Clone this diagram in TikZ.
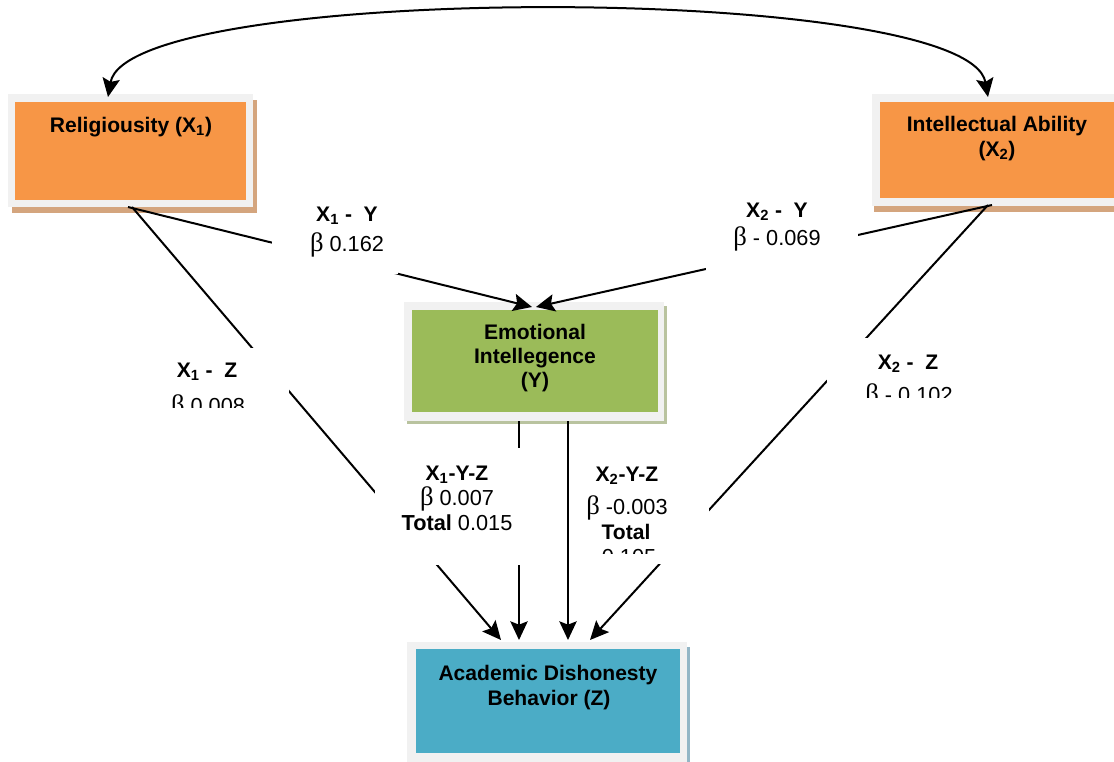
\documentclass[tikz,border=0pt]{standalone}
\usepackage{fontspec}
\setmainfont{Liberation Sans}
\newfontfamily\betafont{Liberation Serif}
\usetikzlibrary{arrows.meta}
\definecolor{orangebox}{HTML}{F79646}
\definecolor{greenbox}{HTML}{9BBB59}
\definecolor{bluebox}{HTML}{4BACC6}
\definecolor{framegray}{HTML}{F1F1F1}
\definecolor{tanshadow}{HTML}{D4A57E}
\definecolor{greenshadow}{HTML}{B9C39F}
\definecolor{blueshadow}{HTML}{93B6C6}
\newcommand{\bt}{{\betafont\fontsize{20}{20}\selectfont β}}
\newcommand{\sbs}[1]{\textsubscript{#1}}
\tikzset{
  title/.style={font=\fontsize{15.8}{19}\selectfont\bfseries, anchor=base, inner sep=0pt},
  labt/.style={font=\fontsize{15.8}{19}\selectfont\bfseries, anchor=base, inner sep=0pt},
  labr/.style={font=\fontsize{16.3}{19}\selectfont, anchor=base, inner sep=0pt},
  boxin/.style={inner sep=0pt, anchor=north west, draw=none},
  conn/.style={line width=1.5pt, black},
  tip/.style={-{Stealth[length=14pt,width=13pt,inset=2.5pt]}},
}
\begin{document}
\begin{tikzpicture}[x=0.75pt,y=-0.75pt]
\useasboundingbox (0,0) rectangle (1114,761);
\clip (0,0) rectangle (1114,761);
\fill[white] (0,0) rectangle (1114,761);

% Religiousity box
\fill[tanshadow] (12,100) rectangle (257,213);
\fill[framegray] (8,94) rectangle (253,207);
\node[boxin, fill=orangebox, minimum width=231*0.75pt, minimum height=98*0.75pt] (X1) at (15,102) {};
\node[title] (X1t) at (131,132) {Religiousity (X\sbs{1})};

% Intellectual Ability box
\fill[tanshadow] (874,100) rectangle (1130,212);
\fill[framegray] (872,94) rectangle (1130,206);
\node[boxin, fill=orangebox, minimum width=250*0.75pt, minimum height=96*0.75pt] (X2) at (880,102) {};
\node[title] (X2t) at (997,131) {Intellectual Ability};
\node[title] (X2u) at (997,156) {(X\sbs{2})};

% Emotional Intellegence box
\fill[greenshadow] (407,306) rectangle (667,424);
\fill[framegray] (404,302) rectangle (664,421);
\node[boxin, fill=greenbox, minimum width=246*0.75pt, minimum height=102*0.75pt] (Y) at (412,310) {};
\node[title] (Yt) at (535,339) {Emotional};
\node[title] (Yu) at (535,363) {Intellegence};
\node[title] (Yv) at (535,387) {(Y)};

% Academic Dishonesty box
\fill[blueshadow] (410,647) rectangle (690,770);
\fill[framegray] (407,642) rectangle (687,770);
\node[boxin, fill=bluebox, minimum width=264*0.75pt, minimum height=104*0.75pt] (Z) at (416,649) {};
\node[title] (Zt) at (548,680) {Academic Dishonesty};
\node[title] (Zu) at (549,705) {Behavior (Z)};

% connector end points
\coordinate (x1top) at (108,97);
\coordinate (x2top) at (988,97);
\coordinate (x1bot) at (128,207);
\coordinate (x1botz) at (132,207);
\coordinate (x2bot) at (992,205);
\coordinate (x2botz) at (988,205);
\coordinate (ytopl) at (532,307);
\coordinate (ytopr) at (536,307);
\coordinate (ybotl) at (519,421);
\coordinate (ybotr) at (568,421);
\coordinate (ztopa) at (501,640);
\coordinate (ztopb) at (519,640);
\coordinate (ztopc) at (568,640);
\coordinate (ztopd) at (590,640);

% connectors
\draw[conn, {Stealth[length=14pt,width=13pt,inset=2.5pt]}-{Stealth[length=14pt,width=13pt,inset=2.5pt]}]
  (x1top) .. controls (128,-18) and (968,-18) .. (x2top);
\draw[conn, tip] (x1bot) -- (ytopl);
\draw[conn, tip] (x2bot) -- (ytopr);
\draw[conn, tip] (x1botz) -- (ztopa);
\draw[conn, tip] (x2botz) -- (ztopd);
\draw[conn, tip] (ybotl) -- (ztopb);
\draw[conn, tip] (ybotr) -- (ztopc);

% label X1 - Y
\begin{scope}
\fill[white] (272,195) rectangle (398,274);
\clip (272,195) rectangle (398,274);
\node[labt] (l1a) at (347,221) {X\sbs{1} -\ \ Y};
\node[labr] (l1b) at (347,251) {\bt\ 0.162};
\end{scope}

% label X2 - Y
\begin{scope}
\fill[white] (706,190) rectangle (858,270);
\clip (706,190) rectangle (858,270);
\node[labt] (l2a) at (777,217) {X\sbs{2} -\ \ Y};
\node[labr] (l2b) at (777,245) {\bt\ - 0.069};
\end{scope}

% label X1 - Z
\begin{scope}
\fill[white] (150,348) rectangle (289,412);
\clip (150,348) rectangle (289,407);
\node[labt] (l3a) at (207,377) {X\sbs{1} -\ \ Z};
\node[labr] (l3b) at (208,413) {\bt\ 0.008};
\end{scope}

% label X2 - Z
\begin{scope}
\fill[white] (827,338) rectangle (960,397);
\clip (827,338) rectangle (960,397);
\node[labt] (l4a) at (908,369) {X\sbs{2} -\ \ Z};
\node[labr] (l4b) at (909,402) {\bt\ - 0.102};
\end{scope}

% label X1-Y-Z
\begin{scope}
\fill[white] (375,448) rectangle (525,565);
\clip (375,448) rectangle (525,565);
\node[labt] (l5a) at (457,480) {X\sbs{1}-Y-Z};
\node[labr] (l5b) at (457,505) {\bt\ 0.007};
\node[labr] (l5c) at (457,530) {\textbf{Total} 0.015};
\end{scope}

% label X2-Y-Z
\begin{scope}
\fill[white] (575,450) rectangle (709,564);
\clip (575,450) rectangle (709,553);
\node[labt] (l6a) at (627,481) {X\sbs{2}-Y-Z};
\node[labr] (l6b) at (627,514) {\bt\ -0.003};
\node[labt] (l6c) at (626,539) {Total};
\node[labr] (l6d) at (629,564) {0.105};
\end{scope}
\end{tikzpicture}
\end{document}
